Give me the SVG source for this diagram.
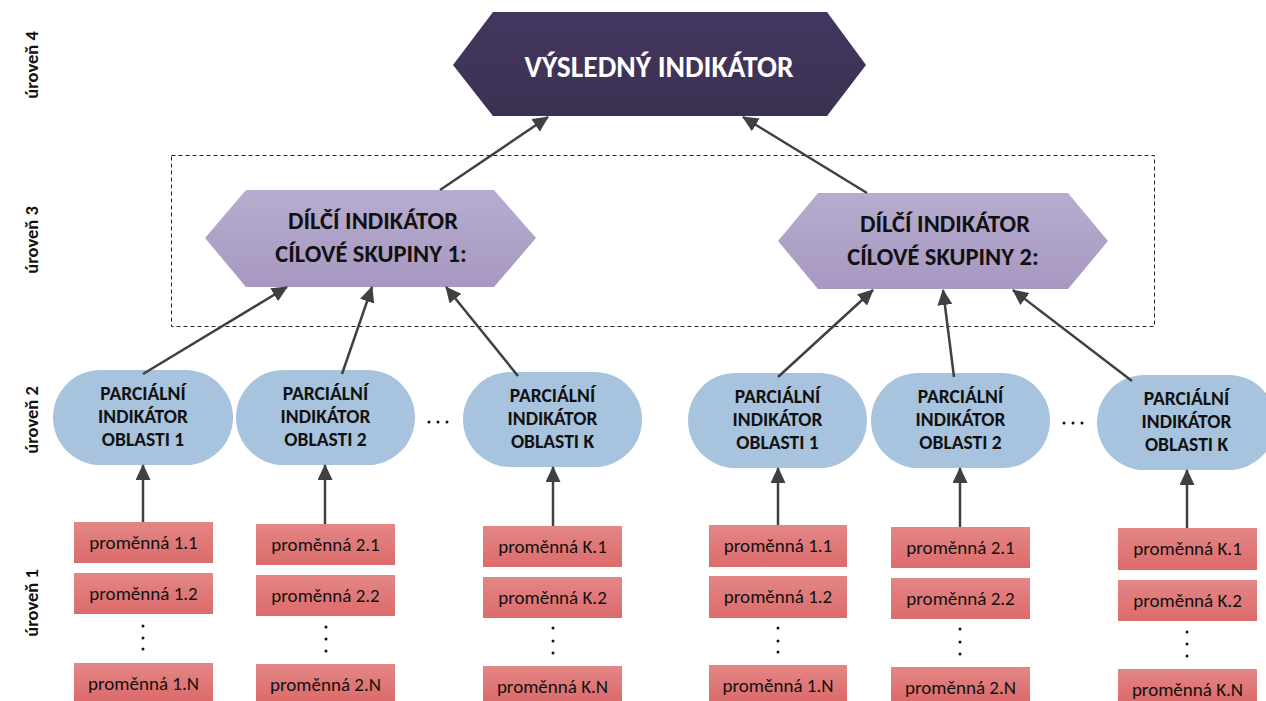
<svg xmlns="http://www.w3.org/2000/svg" width="1266" height="701" viewBox="0 0 1266 701">
<defs>
<linearGradient id="gTop" x1="0" y1="0" x2="0" y2="1"><stop offset="0" stop-color="#433760"/><stop offset="1" stop-color="#3c3052"/></linearGradient>
<linearGradient id="gMid" x1="0" y1="0" x2="0" y2="1"><stop offset="0" stop-color="#b7accf"/><stop offset="1" stop-color="#a798c1"/></linearGradient>
<linearGradient id="gRed" x1="0" y1="0" x2="0" y2="1"><stop offset="0" stop-color="#e48686"/><stop offset="1" stop-color="#dc6b6b"/></linearGradient>
<marker id="ah" markerUnits="userSpaceOnUse" markerWidth="16" markerHeight="15" refX="15" refY="7.5" orient="auto"><path d="M0,0 L16,7.5 L0,15 z" fill="#404040"/></marker>
</defs>
<style>
.lvl{font-family:"Carlito","Lato","Liberation Sans",sans-serif;font-weight:bold;font-size:18.5px;fill:#111;text-anchor:middle}
.top{font-family:"Carlito","Lato","Liberation Sans",sans-serif;font-weight:bold;font-size:29.5px;fill:#fff;text-anchor:middle}
.mid{font-family:"Carlito","Lato","Liberation Sans",sans-serif;font-weight:bold;font-size:24.5px;fill:#111;text-anchor:middle}
.ov{font-family:"Carlito","Lato","Liberation Sans",sans-serif;font-weight:bold;font-size:19.5px;fill:#111;text-anchor:middle}
.var{font-family:"Carlito","Lato","Liberation Sans",sans-serif;font-size:19px;fill:#111;text-anchor:middle}
.oval{fill:#a7c3de}
.box{fill:url(#gRed)}
.con{stroke:#404040;stroke-width:2.5;fill:none;marker-end:url(#ah)}
.dot{fill:#111}
</style>

<g id="levels">
<text class="lvl" transform="translate(38,65) rotate(-90)">úroveň 4</text>
<text class="lvl" transform="translate(38,240) rotate(-90)">úroveň 3</text>
<text class="lvl" transform="translate(38,420) rotate(-90)">úroveň 2</text>
<text class="lvl" transform="translate(38,603) rotate(-90)">úroveň 1</text>
</g>

<rect id="group-frame" x="171.5" y="155.5" width="983" height="171" fill="none" stroke="#222" stroke-width="1" stroke-dasharray="4 3"/>

<g id="result">
<polygon points="453,65 493,12 827,12 866,65 827,116 493,116" fill="url(#gTop)"/>
<text class="top" x="659" y="77">VÝSLEDNÝ INDIKÁTOR</text>
</g>

<g id="group1">
<polygon points="205,238 246,190 494,190 536,238 494,287 246,287" fill="url(#gMid)"/>
<text class="mid" x="373" y="229">DÍLČÍ INDIKÁTOR</text>
<text class="mid" x="371" y="262">CÍLOVÉ SKUPINY 1:</text>
</g>

<g id="group2">
<polygon points="778,241 818,193 1068,193 1108,241 1068,289 818,289" fill="url(#gMid)"/>
<text class="mid" x="945" y="232">DÍLČÍ INDIKÁTOR</text>
<text class="mid" x="943" y="265">CÍLOVÉ SKUPINY 2:</text>
</g>

<g id="p1-1">
<rect class="oval" x="53" y="370" width="180" height="95" rx="47.5"/>
<text class="ov" x="143" y="400">PARCIÁLNÍ</text><text class="ov" x="143" y="423">INDIKÁTOR</text><text class="ov" x="143" y="446">OBLASTI 1</text>
</g>
<g id="p1-2">
<rect class="oval" x="236" y="370" width="179" height="95" rx="47.5"/>
<text class="ov" x="325.5" y="400">PARCIÁLNÍ</text><text class="ov" x="325.5" y="423">INDIKÁTOR</text><text class="ov" x="325.5" y="446">OBLASTI 2</text>
</g>
<g id="p1-k">
<rect class="oval" x="463" y="372" width="179" height="95" rx="47.5"/>
<text class="ov" x="552.5" y="402">PARCIÁLNÍ</text><text class="ov" x="552.5" y="425">INDIKÁTOR</text><text class="ov" x="552.5" y="448">OBLASTI K</text>
</g>
<g id="p2-1">
<rect class="oval" x="688" y="373" width="179" height="95" rx="47.5"/>
<text class="ov" x="777.5" y="403">PARCIÁLNÍ</text><text class="ov" x="777.5" y="426">INDIKÁTOR</text><text class="ov" x="777.5" y="449">OBLASTI 1</text>
</g>
<g id="p2-2">
<rect class="oval" x="871" y="373" width="179" height="95" rx="47.5"/>
<text class="ov" x="960.5" y="403">PARCIÁLNÍ</text><text class="ov" x="960.5" y="426">INDIKÁTOR</text><text class="ov" x="960.5" y="449">OBLASTI 2</text>
</g>
<g id="p2-k">
<rect class="oval" x="1097" y="375" width="179" height="95" rx="47.5"/>
<text class="ov" x="1186.5" y="405">PARCIÁLNÍ</text><text class="ov" x="1186.5" y="428">INDIKÁTOR</text><text class="ov" x="1186.5" y="451">OBLASTI K</text>
</g>

<g id="ellipsis-h">
<circle class="dot" cx="429" cy="422" r="1.5"/><circle class="dot" cx="438" cy="422" r="1.5"/><circle class="dot" cx="447" cy="422" r="1.5"/>
<circle class="dot" cx="1064" cy="423" r="1.5"/><circle class="dot" cx="1073" cy="423" r="1.5"/><circle class="dot" cx="1082" cy="423" r="1.5"/>
</g>

<g id="vars-1-1">
<rect class="box" x="74" y="522" width="139" height="41"/><text class="var" x="143.5" y="549">proměnná 1.1</text>
<rect class="box" x="74" y="573" width="139" height="41"/><text class="var" x="143.5" y="600">proměnná 1.2</text>
<circle class="dot" cx="143" cy="626" r="1.5"/><circle class="dot" cx="143" cy="638" r="1.5"/><circle class="dot" cx="143" cy="649" r="1.5"/>
<rect class="box" x="74" y="663" width="139" height="38"/><text class="var" x="143.5" y="690">proměnná 1.N</text>
</g>
<g id="vars-1-2">
<rect class="box" x="256" y="524" width="139" height="41"/><text class="var" x="325.5" y="551">proměnná 2.1</text>
<rect class="box" x="256" y="575" width="139" height="41"/><text class="var" x="325.5" y="602">proměnná 2.2</text>
<circle class="dot" cx="326" cy="627" r="1.5"/><circle class="dot" cx="326" cy="639" r="1.5"/><circle class="dot" cx="326" cy="651" r="1.5"/>
<rect class="box" x="256" y="664" width="139" height="37"/><text class="var" x="325.5" y="691">proměnná 2.N</text>
</g>
<g id="vars-1-k">
<rect class="box" x="483" y="526" width="139" height="41"/><text class="var" x="552.5" y="553">proměnná K.1</text>
<rect class="box" x="483" y="577" width="139" height="41"/><text class="var" x="552.5" y="604">proměnná K.2</text>
<circle class="dot" cx="553" cy="628" r="1.5"/><circle class="dot" cx="553" cy="641" r="1.5"/><circle class="dot" cx="553" cy="653" r="1.5"/>
<rect class="box" x="483" y="666" width="139" height="35"/><text class="var" x="552.5" y="693">proměnná K.N</text>
</g>
<g id="vars-2-1">
<rect class="box" x="709" y="525" width="138" height="42"/><text class="var" x="778" y="552">proměnná 1.1</text>
<rect class="box" x="709" y="576" width="138" height="42"/><text class="var" x="778" y="603">proměnná 1.2</text>
<circle class="dot" cx="778" cy="628" r="1.5"/><circle class="dot" cx="778" cy="641" r="1.5"/><circle class="dot" cx="778" cy="652" r="1.5"/>
<rect class="box" x="709" y="665" width="138" height="36"/><text class="var" x="778" y="692">proměnná 1.N</text>
</g>
<g id="vars-2-2">
<rect class="box" x="891" y="527" width="139" height="41"/><text class="var" x="960.5" y="554">proměnná 2.1</text>
<rect class="box" x="891" y="578" width="139" height="41"/><text class="var" x="960.5" y="605">proměnná 2.2</text>
<circle class="dot" cx="960" cy="629" r="1.5"/><circle class="dot" cx="960" cy="642" r="1.5"/><circle class="dot" cx="960" cy="654" r="1.5"/>
<rect class="box" x="891" y="667" width="139" height="34"/><text class="var" x="960.5" y="694">proměnná 2.N</text>
</g>
<g id="vars-2-k">
<rect class="box" x="1118" y="528" width="139" height="42"/><text class="var" x="1187.5" y="555">proměnná K.1</text>
<rect class="box" x="1118" y="580" width="139" height="41"/><text class="var" x="1187.5" y="607">proměnná K.2</text>
<circle class="dot" cx="1187" cy="632" r="1.5"/><circle class="dot" cx="1187" cy="644" r="1.5"/><circle class="dot" cx="1187" cy="656" r="1.5"/>
<rect class="box" x="1118" y="669" width="139" height="32"/><text class="var" x="1187.5" y="696">proměnná K.N</text>
</g>

<g id="connectors">
<line class="con" x1="440" y1="190" x2="548" y2="117"/>
<line class="con" x1="867" y1="193" x2="743" y2="117"/>
<line class="con" x1="143" y1="374" x2="287" y2="287"/>
<line class="con" x1="342" y1="374" x2="372" y2="287"/>
<line class="con" x1="518" y1="376" x2="446" y2="287"/>
<line class="con" x1="778" y1="377" x2="873" y2="290"/>
<line class="con" x1="954" y1="377" x2="943" y2="290"/>
<line class="con" x1="1132" y1="381" x2="1013" y2="290"/>
<line class="con" x1="143" y1="522" x2="143" y2="465"/>
<line class="con" x1="325" y1="524" x2="325" y2="465"/>
<line class="con" x1="553" y1="526" x2="553" y2="467"/>
<line class="con" x1="778" y1="525" x2="778" y2="468"/>
<line class="con" x1="960" y1="527" x2="960" y2="468"/>
<line class="con" x1="1187" y1="528" x2="1187" y2="470"/>
</g>
</svg>
